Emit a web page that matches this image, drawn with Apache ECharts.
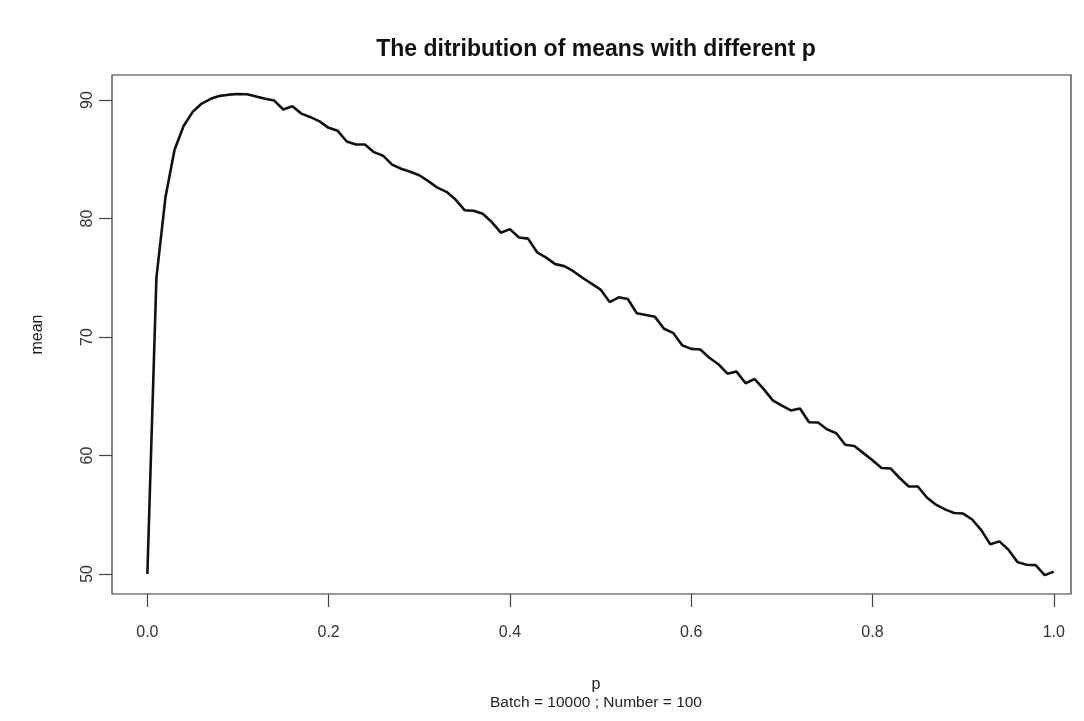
<!DOCTYPE html>
<html>
<head>
<meta charset="utf-8">
<script src="https://cdn.jsdelivr.net/npm/echarts@6/dist/echarts.min.js"></script>
<style>html,body{margin:0;padding:0;background:#fff;}#c{width:1084px;height:721px;}</style>
</head>
<body>
<div id="c"></div>
<script>
const pValues = [0.00,0.01,0.02,0.03,0.04,0.05,0.06,0.07,0.08,0.09,
0.10,0.11,0.12,0.13,0.14,0.15,0.16,0.17,0.18,0.19,
0.20,0.21,0.22,0.23,0.24,0.25,0.26,0.27,0.28,0.29,
0.30,0.31,0.32,0.33,0.34,0.35,0.36,0.37,0.38,0.39,
0.40,0.41,0.42,0.43,0.44,0.45,0.46,0.47,0.48,0.49,
0.50,0.51,0.52,0.53,0.54,0.55,0.56,0.57,0.58,0.59,
0.60,0.61,0.62,0.63,0.64,0.65,0.66,0.67,0.68,0.69,
0.70,0.71,0.72,0.73,0.74,0.75,0.76,0.77,0.78,0.79,
0.80,0.81,0.82,0.83,0.84,0.85,0.86,0.87,0.88,0.89,
0.90,0.91,0.92,0.93,0.94,0.95,0.96,0.97,0.98,0.99,1.00];
const means = [50.0,75.0,81.8,85.8,87.8,89.0,89.7,90.1,90.35,90.45,
90.5,90.48,90.3,90.1,89.95,89.2,89.47,88.85,88.55,88.2,
87.65,87.4,86.5,86.25,86.24,85.6,85.3,84.55,84.2,83.95,
83.65,83.15,82.6,82.25,81.6,80.7,80.65,80.4,79.7,78.8,
79.1,78.4,78.3,77.15,76.7,76.15,75.98,75.55,75.0,74.5,
74.0,72.95,73.35,73.2,72.0,71.85,71.7,70.7,70.35,69.3,
69.0,68.95,68.25,67.7,66.9,67.08,66.1,66.45,65.6,64.65,
64.2,63.8,63.97,62.8,62.78,62.2,61.88,60.9,60.8,60.2,
59.6,58.95,58.9,58.1,57.38,57.38,56.45,55.85,55.45,55.15,
55.1,54.6,53.7,52.5,52.75,52.05,51.0,50.78,50.75,49.9,50.2];
const xTicks = [0, 0.2, 0.4, 0.6, 0.8, 1.0];
const yTicks = [50, 60, 70, 80, 90];
const titleText = 'The ditribution of means with different p';
const xName = 'p';
const yName = 'mean';
const subText = 'Batch = 10000 ; Number = 100';

const FONT = "'Liberation Sans Narrow', 'Liberation Sans', Arial, sans-serif";
const chart = echarts.init(document.getElementById('c'), null, {renderer: 'canvas'});
chart.setOption({
  animation: false,
  backgroundColor: '#fff',
  title: [
    {text: titleText, left: 591, top: 33, textAlign: 'center',
     textStyle: {fontFamily: FONT, fontSize: 23, fontWeight: 'bold', color: '#111'}},
    {text: xName, left: 591, top: 672, textAlign: 'center',
     textStyle: {fontFamily: FONT, fontSize: 16, fontWeight: 'normal', color: '#222'}},
    {text: subText, left: 591, top: 690, textAlign: 'center',
     textStyle: {fontFamily: FONT, fontSize: 15.5, fontWeight: 'normal', color: '#222'}}
  ],
  grid: {left: 112, right: 13, top: 75, bottom: 127, show: true, borderColor: '#333', borderWidth: 1.2, backgroundColor: 'transparent'},
  xAxis: {
    type: 'value', min: -0.039, max: 1.019,
    axisLine: {show: false, onZero: false},
    splitLine: {show: false},
    axisTick: {show: true, customValues: xTicks, length: 13, lineStyle: {color: '#444', width: 1.2}},
    axisLabel: {show: true, customValues: xTicks, margin: 31, fontFamily: FONT, fontSize: 16, color: '#333',
      formatter: v => v.toFixed(1)}
  },
  yAxis: {
    type: 'value', min: 48.31, max: 92.11,
    name: yName, nameLocation: 'middle', nameGap: 66, nameRotate: 90,
    nameTextStyle: {fontFamily: FONT, fontSize: 16, color: '#222'},
    axisLine: {show: false, onZero: false},
    splitLine: {show: false},
    axisTick: {show: true, customValues: yTicks, length: 13, lineStyle: {color: '#444', width: 1.2}},
    axisLabel: {show: true, customValues: yTicks, margin: 16, rotate: 90, fontFamily: FONT, fontSize: 16, color: '#333'}
  },
  series: [{
    type: 'line',
    data: pValues.map((p, i) => [p, means[i]]),
    showSymbol: false,
    smooth: false,
    lineStyle: {color: '#111', width: 2.6},
    silent: true
  }]
});
</script>
</body>
</html>
